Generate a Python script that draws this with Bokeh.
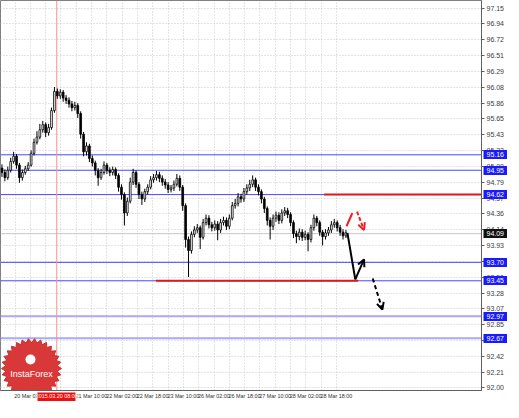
import numpy as np
from bokeh.plotting import figure
from bokeh.models import (Range1d, FixedTicker, PrintfTickFormatter, Span, Label,
                          Arrow, OpenHead, ColumnDataSource, LinearAxis)
from bokeh.embed import file_html
from bokeh.resources import INLINE

# ---------------- data ----------------
bar_open = [94.98, 94.92, 94.85, 94.95, 95.07, 95.14, 95.02, 94.85, 94.92, 94.97,
 95.02, 95.18, 95.33, 95.40, 95.50, 95.57, 95.46, 95.53, 95.76, 96.02,
 95.96, 96.01, 95.93, 95.90, 95.85, 95.80, 95.83, 95.72, 95.44, 95.20,
 95.28, 95.11, 95.05, 94.95, 94.85, 94.92, 95.02, 94.95, 94.92, 94.96,
 94.88, 94.72, 94.62, 94.37, 94.53, 94.79, 94.92, 94.76, 94.62, 94.56,
 94.66, 94.72, 94.82, 94.85, 94.89, 94.84, 94.79, 94.75, 94.69, 94.71,
 94.76, 94.84, 94.72, 94.47, 94.01, 93.86, 94.08, 94.14, 94.17, 94.04,
 94.24, 94.30, 94.21, 94.17, 94.22, 94.14, 94.24, 94.27, 94.19, 94.30,
 94.47, 94.50, 94.59, 94.56, 94.66, 94.71, 94.76, 94.82, 94.72, 94.66,
 94.56, 94.43, 94.27, 94.19, 94.30, 94.34, 94.27, 94.37, 94.40, 94.35,
 94.24, 94.09, 94.05, 94.11, 94.04, 94.08, 94.01, 94.17, 94.30, 94.24,
 94.11, 94.05, 94.10, 94.14, 94.21, 94.24, 94.17, 94.11, 94.06]
bar_close = [94.92, 94.85, 94.95, 95.07, 95.14, 95.02, 94.85, 94.92, 94.97, 95.02,
 95.18, 95.33, 95.40, 95.50, 95.57, 95.46, 95.53, 95.76, 96.02, 95.96,
 96.01, 95.93, 95.90, 95.85, 95.80, 95.83, 95.72, 95.44, 95.20, 95.28,
 95.11, 95.05, 94.95, 94.85, 94.92, 95.02, 94.95, 94.92, 94.96, 94.88,
 94.72, 94.62, 94.37, 94.53, 94.79, 94.92, 94.76, 94.62, 94.56, 94.66,
 94.72, 94.82, 94.85, 94.89, 94.84, 94.79, 94.75, 94.69, 94.71, 94.76,
 94.84, 94.72, 94.47, 94.01, 93.86, 94.08, 94.14, 94.17, 94.04, 94.24,
 94.30, 94.21, 94.17, 94.22, 94.14, 94.24, 94.27, 94.19, 94.30, 94.47,
 94.50, 94.59, 94.56, 94.66, 94.71, 94.76, 94.82, 94.72, 94.66, 94.56,
 94.43, 94.27, 94.19, 94.30, 94.34, 94.27, 94.37, 94.40, 94.35, 94.24,
 94.09, 94.05, 94.11, 94.04, 94.08, 94.01, 94.17, 94.30, 94.24, 94.11,
 94.05, 94.10, 94.14, 94.21, 94.24, 94.17, 94.11, 94.06, 94.10]
bar_high = [95.03, 94.96, 95.00, 95.12, 95.20, 95.17, 95.05, 94.96, 95.01, 95.06,
 95.22, 95.38, 95.48, 95.58, 95.62, 95.60, 95.58, 95.80, 96.08, 96.06,
 96.05, 96.04, 95.97, 95.94, 95.89, 95.88, 95.86, 95.75, 95.47, 95.33,
 95.31, 95.15, 95.08, 94.98, 94.97, 95.07, 95.05, 94.99, 95.00, 94.99,
 94.91, 94.76, 94.65, 94.58, 94.85, 94.97, 94.95, 94.79, 94.66, 94.70,
 94.76, 94.87, 94.90, 94.94, 94.93, 94.88, 94.83, 94.79, 94.75, 94.81,
 94.90, 94.88, 94.75, 94.50, 94.05, 94.12, 94.19, 94.22, 94.20, 94.29,
 94.35, 94.34, 94.25, 94.27, 94.26, 94.29, 94.32, 94.31, 94.35, 94.52,
 94.56, 94.64, 94.63, 94.71, 94.76, 94.82, 94.88, 94.85, 94.76, 94.69,
 94.59, 94.46, 94.31, 94.35, 94.39, 94.38, 94.42, 94.45, 94.44, 94.38,
 94.27, 94.13, 94.16, 94.15, 94.13, 94.11, 94.21, 94.35, 94.33, 94.27,
 94.14, 94.15, 94.18, 94.26, 94.29, 94.27, 94.21, 94.15, 94.14]
bar_low = [94.86, 94.80, 94.82, 94.92, 95.04, 94.97, 94.78, 94.81, 94.89, 94.94,
 95.00, 95.15, 95.30, 95.37, 95.46, 95.40, 95.42, 95.50, 95.73, 95.92,
 95.92, 95.88, 95.85, 95.80, 95.75, 95.76, 95.66, 95.38, 95.14, 95.15,
 95.06, 95.00, 94.88, 94.74, 94.82, 94.89, 94.90, 94.87, 94.88, 94.83,
 94.66, 94.55, 94.20, 94.33, 94.50, 94.75, 94.71, 94.56, 94.48, 94.52,
 94.62, 94.69, 94.78, 94.81, 94.79, 94.74, 94.70, 94.64, 94.65, 94.67,
 94.73, 94.67, 94.40, 93.90, 93.50, 93.82, 94.04, 94.10, 93.88, 94.01,
 94.20, 94.16, 94.12, 94.13, 94.00, 94.10, 94.20, 94.14, 94.15, 94.27,
 94.43, 94.46, 94.51, 94.52, 94.62, 94.67, 94.72, 94.67, 94.61, 94.50,
 94.37, 94.20, 94.01, 94.14, 94.25, 94.22, 94.23, 94.33, 94.30, 94.19,
 94.03, 93.96, 94.00, 93.99, 94.00, 93.85, 93.97, 94.13, 94.19, 94.06,
 93.93, 94.01, 94.06, 94.10, 94.17, 94.12, 94.06, 94.01, 94.03]

price_ticks = [97.15, 96.94, 96.72, 96.51, 96.29, 96.08, 95.86, 95.65, 95.43, 95.22,
               95.00, 94.79, 94.57, 94.36, 94.14, 93.93, 93.71, 93.50, 93.28, 93.07,
               92.85, 92.64, 92.42, 92.21, 92.00]
time_tick_pos = [4.5, 15, 25.5, 36, 46.5, 57, 67.5, 78, 88.5, 99, 109.5]
time_tick_labels = ["20 Mar 02:00", "", "21 Mar 10:00", "22 Mar 02:00", "22 Mar 18:00",
                    "23 Mar 10:00", "26 Mar 02:00", "26 Mar 18:00", "27 Mar 10:00",
                    "28 Mar 02:00", "28 Mar 18:00"]

level_thin = [95.16, 94.95, 94.62, 93.70, 93.45]
level_wide = [92.97, 92.67]
bid_price = 94.09
marker_time = 18.8
marker_time_label = "2015.03.20 08:00"

resist_x = [110.5, 164.5]
resist_y = [94.62, 94.62]
support_x = [52.8, 122.2]
support_y = [93.45, 93.45]

path_black_x = [118.5, 121.2]
path_black_y = [94.10, 93.47]
arrow_black = (121.2, 93.47, 124.2, 93.74)
arrow_black_dash = (127.2, 93.48, 130.5, 93.06)
path_red_x = [118.2, 120.2]
path_red_y = [94.19, 94.37]
arrow_red = (121.8, 94.39, 124.2, 94.14)

# ---------------- figure ----------------
X0, X1 = -0.5, 164.5
Y0, Y1 = 91.961, 97.254
FW, FH = 481, 390
FONT = "Liberation Sans"
LABEL_SHIFT = 5.2   # left-align time labels at their grid line
AXW = 22            # width of the price-label column

p = figure(frame_width=FW, frame_height=FH, x_range=Range1d(X0, X1), y_range=Range1d(Y0, Y1),
           y_axis_location="right", output_backend="svg", toolbar_location=None,
           min_border=0, background_fill_color="white",
           border_fill_color="white", outline_line_color="#808080")

# grids
p.ygrid.ticker = FixedTicker(ticks=price_ticks)
p.ygrid.grid_line_color = "#c8c8c8"
p.ygrid.grid_line_dash = "1 2"
minor_t = [t + 5.25 for t in time_tick_pos]
p.xgrid.ticker = FixedTicker(ticks=time_tick_pos, minor_ticks=minor_t)
p.xgrid.grid_line_color = "#c8c8c8"
p.xgrid.grid_line_dash = "1 2"
p.xgrid.minor_grid_line_color = "#c8c8c8"
p.xgrid.minor_grid_line_dash = "1 2"

# price axis
ya = p.yaxis[0]
ya.ticker = FixedTicker(ticks=price_ticks)
ya.formatter = PrintfTickFormatter(format="%.2f")
ya.major_label_text_font = FONT
ya.major_label_text_font_size = "7px"
ya.major_label_text_color = "#404040"
ya.axis_line_color = "#606060"
ya.major_tick_line_color = "#606060"
ya.major_tick_in = 0
ya.major_tick_out = 3
ya.minor_tick_line_color = None
ya.major_label_standoff = 2

# time axis
shifted = [t + LABEL_SHIFT for t in time_tick_pos]
xa = p.xaxis[0]
xa.ticker = FixedTicker(ticks=shifted)
xa.major_label_overrides = {t: l for t, l in zip(shifted, time_tick_labels)}
xa.major_label_text_font = FONT
xa.major_label_text_font_size = "5.4px"
xa.major_label_text_color = "#303030"
xa.axis_line_color = "#606060"
xa.major_tick_line_color = None
xa.major_tick_in = 0
xa.major_tick_out = 0
xa.minor_tick_line_color = None
xa.major_label_standoff = 2


def tag_axis(levels, color):
    ax = LinearAxis(ticker=FixedTicker(ticks=levels),
                    formatter=PrintfTickFormatter(format="%.2f"))
    ax.axis_line_color = None
    ax.minor_tick_line_color = None
    ax.major_tick_line_color = color
    ax.major_tick_line_width = 9
    ax.major_tick_in = AXW + 2
    ax.major_tick_out = 0
    ax.major_label_standoff = -(AXW - 1)
    ax.major_label_text_font = FONT
    ax.major_label_text_font_size = "7px"
    ax.major_label_text_color = "white"
    p.add_layout(ax, "right")


tag_axis(level_thin + level_wide, "#1a1aff")
tag_axis([bid_price], "#111111")

tx = LinearAxis(ticker=FixedTicker(ticks=[marker_time]),
                major_label_overrides={marker_time: marker_time_label})
tx.axis_line_color = None
tx.minor_tick_line_color = None
tx.major_tick_line_color = "#ee1010"
tx.major_tick_line_width = 38
tx.major_tick_in = 9
tx.major_tick_out = 0
tx.major_label_standoff = -9
tx.major_label_text_font = FONT
tx.major_label_text_font_size = "5.4px"
tx.major_label_text_color = "white"
p.add_layout(tx, "below")

# level lines (under the candles)
for lv in level_thin:
    p.add_layout(Span(location=lv, dimension="width", line_color="#4848ff", line_width=1,
                      level="underlay"))
for lv in level_wide:
    p.add_layout(Span(location=lv, dimension="width", line_color="#a8a8ff", line_width=2,
                      level="underlay"))
p.add_layout(Span(location=bid_price, dimension="width", line_color="#c8c8c8", line_width=1,
                  level="underlay"))
p.add_layout(Span(location=marker_time, dimension="height", line_color="#ff8c8c", line_width=1,
                  level="underlay"))

# candles
idx = list(range(len(bar_close)))
colors = ["white" if c >= o else "black" for o, c in zip(bar_open, bar_close)]
src = ColumnDataSource(dict(x=idx, o=bar_open, c=bar_close, h=bar_high, l=bar_low,
                            top=[max(a, b) for a, b in zip(bar_open, bar_close)],
                            bot=[min(a, b) for a, b in zip(bar_open, bar_close)],
                            col=colors))
p.segment(x0="x", y0="l", x1="x", y1="h", source=src, line_color="black", line_width=1)
p.vbar(x="x", width=0.6, top="top", bottom="bot", source=src, fill_color="col",
       line_color="black", line_width=0.8)

# red support/resistance
p.line(resist_x, resist_y, line_color="#e01818", line_width=2)
p.line(support_x, support_y, line_color="#e01818", line_width=2)

# projection paths
p.line(path_black_x, path_black_y, line_color="black", line_width=2)
for (xs, ys, xe, ye), col, dash in [(arrow_black, "black", "solid"),
                                   (arrow_black_dash, "black", "4 3"),
                                   (arrow_red, "#ee2020", "4 2")]:
    p.add_layout(Arrow(end=OpenHead(size=7, line_color=col, line_width=2),
                       x_start=xs, y_start=ys, x_end=xe, y_end=ye,
                       line_color=col, line_width=2, line_dash=dash))
p.line(path_red_x, path_red_y, line_color="#ee2020", line_width=2)

# logo (decoration)
sx = FW / (X1 - X0)
sy = FH / (Y1 - Y0)
cx, cy = X0 + 31 / sx, Y0 + 22 / sy
n = 30
ang = np.linspace(0, 2 * np.pi, 2 * n, endpoint=False)
rad = np.where(np.arange(2 * n) % 2 == 0, 30.0, 26.0)
p.patch(list(cx + rad * np.cos(ang) / sx), list(cy + rad * np.sin(ang) / sy),
        fill_color="#d83838", line_color="#c83030", line_width=1)
p.scatter([cx - 1 / sx], [cy + 9 / sy], marker="circle", size=10, fill_color="white",
          line_color=None)
p.add_layout(Label(x=cx, y=cy - 5 / sy, text="InstaForex", text_align="center",
                   text_baseline="middle", text_font=FONT, text_font_size="9px",
                   text_color="white"))

open("out.html", "w").write(file_html(p, INLINE))
